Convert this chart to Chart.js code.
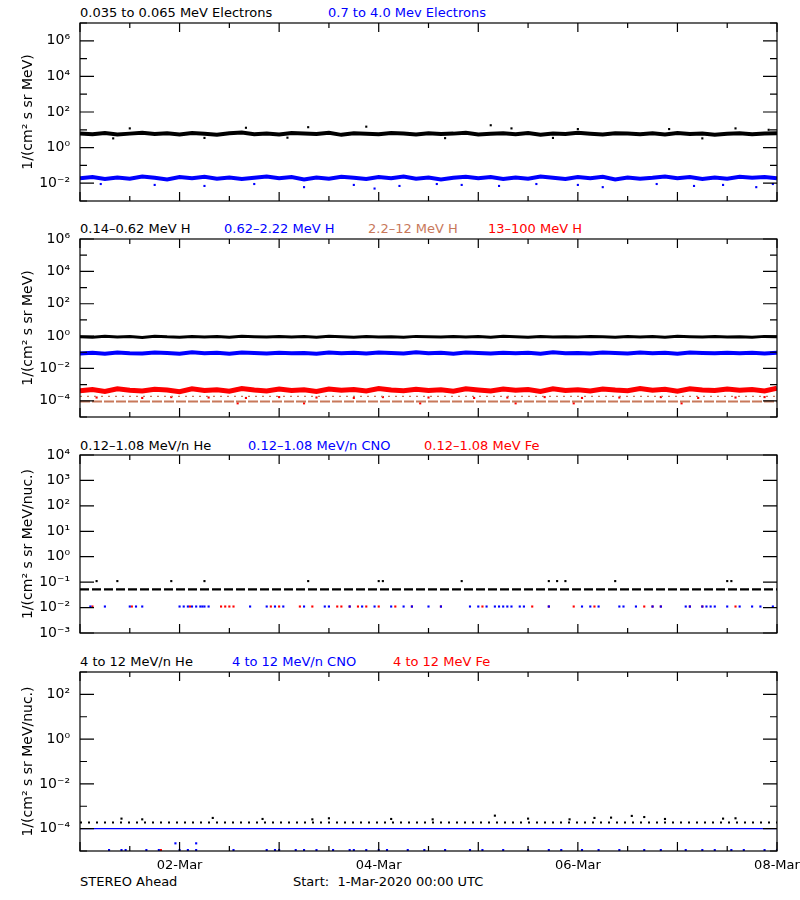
<!DOCTYPE html>
<html><head><meta charset="utf-8">
<script src="https://cdn.jsdelivr.net/npm/chart.js@4.4.1/dist/chart.umd.min.js"></script>
<style>
body{margin:0;background:#fff;width:800px;height:900px;position:relative;overflow:hidden;font-family:"DejaVu Sans",sans-serif;}
canvas{position:absolute;left:0;}
.lab{position:absolute;font-size:13px;white-space:pre;line-height:14px;}
</style></head><body>
<div class="lab" style="left:80px;top:6px;color:#000">0.035 to 0.065 MeV Electrons</div>
<div class="lab" style="left:328px;top:6px;color:#0000ff">0.7 to 4.0 Mev Electrons</div>
<div class="lab" style="left:80px;top:222px;color:#000">0.14–0.62 MeV H</div>
<div class="lab" style="left:224px;top:222px;color:#0000ff">0.62–2.22 MeV H</div>
<div class="lab" style="left:368px;top:222px;color:#c8785a">2.2–12 MeV H</div>
<div class="lab" style="left:488px;top:222px;color:#ff0000">13–100 MeV H</div>
<div class="lab" style="left:80px;top:439px;color:#000">0.12–1.08 MeV/n He</div>
<div class="lab" style="left:248px;top:439px;color:#0000ff">0.12–1.08 MeV/n CNO</div>
<div class="lab" style="left:424px;top:439px;color:#ff0000">0.12–1.08 MeV Fe</div>
<div class="lab" style="left:80px;top:655px;color:#000">4 to 12 MeV/n He</div>
<div class="lab" style="left:232px;top:655px;color:#0000ff">4 to 12 MeV/n CNO</div>
<div class="lab" style="left:393px;top:655px;color:#ff0000">4 to 12 MeV Fe</div>
<div class="lab" style="left:80px;top:875px;color:#000">STEREO Ahead</div>
<div class="lab" style="left:293px;top:875px;color:#000">Start:  1-Mar-2020 00:00 UTC</div>
<canvas id="c1" width="800" height="192" style="top:13px;width:800px;height:192px"></canvas>
<canvas id="c2" width="800" height="192" style="top:229px;width:800px;height:192px"></canvas>
<canvas id="c3" width="800" height="192" style="top:445px;width:800px;height:192px"></canvas>
<canvas id="c4" width="800" height="219" style="top:662px;width:800px;height:219px"></canvas>
<script>
// ---- data ----
const hours = [0,3,6,9,12,15,18,21,24,27,30,33,36,39,42,45,48,51,54,57,60,63,66,69,72,75,78,81,84,87,90,93,96,99,102,105,108,111,114,117,120,123,126,129,132,135,138,141,144,147,150,153,156,159,162,165,168];
const xTickLabels = {24:"02-Mar",72:"04-Mar",120:"06-Mar",168:"08-Mar"};
// Panel 1 electrons
const e1Black = [6.2,5.6,6.6,5.4,6.1,6.9,5.8,6.3,5.5,6.7,6.0,5.3,6.4,7.0,5.7,6.2,5.4,6.6,6.1,5.8,6.8,5.2,6.3,6.0,5.7,6.7,6.2,5.5,6.4,5.8,6.1,6.9,5.4,6.0,6.3,5.7,6.6,5.3,6.2,5.8,6.8,6.0,5.4,6.4,6.1,5.7,6.3,5.5,6.7,5.8,6.2,5.3,6.0,6.4,5.7,6.1,6.3];
const e1Blue = [0.019,0.022,0.017,0.021,0.018,0.024,0.020,0.016,0.022,0.019,0.023,0.018,0.021,0.017,0.020,0.024,0.019,0.022,0.016,0.021,0.018,0.023,0.020,0.017,0.022,0.019,0.024,0.018,0.021,0.016,0.020,0.023,0.019,0.022,0.017,0.021,0.018,0.024,0.020,0.017,0.022,0.019,0.023,0.016,0.021,0.018,0.020,0.024,0.019,0.022,0.017,0.021,0.018,0.023,0.020,0.022,0.019];
const e1BlackOutX = [12,40,55,69,99,104,120,142,158,166];
const e1BlackOut = [12,13,14,15,18,12,11,11,12,10];
const e1BlackLowX = [8,30,50,88,114,150];
const e1BlackLow = [3.3,3.5,3.6,3.4,3.5,3.3];
const e1BlueLowX = [5,18,30,42,54,66,71,77,86,92,101,110,120,126,139,148,155,163,167];
const e1BlueLow = [0.009,0.008,0.007,0.009,0.006,0.008,0.005,0.007,0.009,0.008,0.007,0.009,0.008,0.006,0.009,0.007,0.008,0.006,0.009];
// Panel 2 protons
const hBlack = [0.92,0.85,0.97,0.88,0.94,0.83,0.99,0.90,0.86,0.95,0.89,0.93,0.84,0.98,0.91,0.87,0.96,0.88,0.93,0.85,0.97,0.90,0.86,0.94,0.89,0.92,0.84,0.96,0.91,0.87,0.95,0.88,0.93,0.86,0.98,0.90,0.85,0.94,0.89,0.92,0.87,0.96,0.90,0.84,0.95,0.88,0.93,0.86,0.97,0.91,0.87,0.94,0.89,0.92,0.85,0.96,0.90];
const hBlue = [0.085,0.094,0.080,0.098,0.088,0.083,0.096,0.090,0.081,0.099,0.087,0.093,0.082,0.097,0.089,0.084,0.095,0.088,0.091,0.080,0.098,0.086,0.093,0.083,0.096,0.089,0.085,0.100,0.087,0.092,0.081,0.097,0.090,0.084,0.095,0.088,0.093,0.082,0.099,0.087,0.091,0.083,0.096,0.089,0.085,0.098,0.088,0.092,0.081,0.097,0.090,0.086,0.094,0.088,0.093,0.084,0.095];
const hRed = [0.00042,0.00050,0.00038,0.00055,0.00045,0.00040,0.00052,0.00047,0.00037,0.00056,0.00044,0.00049,0.00039,0.00058,0.00046,0.00041,0.00053,0.00043,0.00048,0.00038,0.00054,0.00045,0.00050,0.00040,0.00057,0.00046,0.00042,0.00052,0.00044,0.00049,0.00039,0.00055,0.00047,0.00041,0.00053,0.00045,0.00050,0.00038,0.00056,0.00044,0.00048,0.00040,0.00054,0.00046,0.00042,0.00058,0.00045,0.00051,0.00039,0.00055,0.00047,0.00043,0.00053,0.00045,0.00050,0.00041,0.00060];
const hBrownX = [0,168];
const hBrown = [0.00009,0.00009];
const hBrownUp = [0.00019,0.00019];
const hRedLowX = [4,15,22,31,40,48,57,66,73,84,95,103,112,121,130,140,149,158,165];
const hRedLow = [0.00016,0.00015,0.00017,0.00016,0.00015,0.00017,0.00016,0.00015,0.00017,0.00016,0.00015,0.00016,0.00017,0.00015,0.00016,0.00017,0.00015,0.00016,0.00017];
const hRedVLowX = [38,54,82,105,119,145];
const hRedVLow = [0.00007,0.00007,0.00007,0.00007,0.00007,0.00007];
// Panel 3 low-energy ions
const lHeX = [0,168];
const lHe = [0.052,0.052];
const lHeOutX = [4,9,22,30,55,72,73,92,113,115,117,129,156,157];
const lHeOut = [0.11,0.11,0.11,0.11,0.11,0.11,0.11,0.11,0.11,0.11,0.11,0.11,0.11,0.11];
const lCnoX = [2.5,6,12,13.5,15,24,25,26,27,28,29,30,31,29.5,41,45,47,49,54,59,60,65,68,71,75,78,80,84,87,94,96,98,100,101,102,103,104,106,107,113,121,123,125,130,131,134,138,140,146,147,150,151,152,153,156,159,162,164,167];
const lCno = lCnoX.map(() => 0.011);
const lFeX = [3,12.5,26.5,34,35,36,37,46,48,53,56,62,63,65,67,69,72,76,80,87,97,109,113,119,124,136,138,140,147,150,158];
const lFe = lFeX.map(() => 0.011);
// Panel 4 high-energy ions
const hiHeX = [0,168];
const hiHe = [0.00019,0.00019];
const hiHeOutX = [10,15,32,44,56,60,75,85,100,108,118,124,128,133,136,141,155,158];
const hiHeOut = [0.00028,0.00026,0.00030,0.00027,0.00026,0.00029,0.00027,0.00026,0.00038,0.00028,0.00026,0.00030,0.00031,0.00037,0.00033,0.00027,0.00028,0.00029];
const hiCnoX = [0,168];
const hiCno = [0.0001,0.0001];
const hiCnoLowX = [7,10,11,16,19,24,26,28,37,45,47,48,52,54,57,61,65,66,69,72,74,79,83,88,94,97,102,108,113,116,121,125,130,136,140,146,150,153,157,160,165,168];
const hiCnoLow = hiCnoLowX.map(() => 0.000011);
const hiCnoMidX = [23,28];
const hiCnoMid = [0.000022,0.000022];
const hiFeX = [19.5];
const hiFe = [0.000011];

// ---- helpers ----
const sup = {"-":"⁻","0":"⁰","1":"¹","2":"²","3":"³","4":"⁴","5":"⁵","6":"⁶","7":"⁷","8":"⁸","9":"⁹"};
const fmt = e => "10" + String(e).split("").map(c => sup[c]).join("");
const pts = (xs, ys) => xs.map((x, i) => ({x: x, y: ys[i]}));
const line = (xs, ys, color, w, dash) => ({type:'line', data: pts(xs, ys), borderColor: color, borderWidth: w, borderDash: dash || [], pointRadius: 0, tension: 0});
const dots = (xs, ys, color, r) => ({type:'scatter', data: pts(xs, ys), backgroundColor: color, borderWidth: 0, pointRadius: r || 1.5, pointStyle: 'rect'});

const framePlugin = {
  id: 'frame',
  afterDraw(chart, args, o) {
    const {ctx, chartArea: a, scales} = chart;
    const x = scales.x, y = scales.y;
    ctx.save();
    ctx.strokeStyle = '#000'; ctx.lineWidth = 1.2;
    ctx.strokeRect(a.left, a.top, a.right - a.left, a.bottom - a.top);
    for (let h = 0; h <= 168; h += 12) {
      const px = x.getPixelForValue(h);
      const len = (h % 24 === 0) ? 9 : 5;
      ctx.beginPath(); ctx.moveTo(px, a.bottom); ctx.lineTo(px, a.bottom - len);
      ctx.moveTo(px, a.top); ctx.lineTo(px, a.top + len); ctx.stroke();
    }
    for (let e = o.eMin; e <= o.eMax; e++) {
      const py = y.getPixelForValue(Math.pow(10, e));
      const major = o.labelStep === 1 || ((e - o.labelStart) % 2 === 0);
      const len = major ? 14 : 7;
      ctx.beginPath(); ctx.moveTo(a.left, py); ctx.lineTo(a.left + len, py);
      ctx.moveTo(a.right, py); ctx.lineTo(a.right - len, py); ctx.stroke();
    }
    ctx.restore();
  }
};

function make(id, datasets, cfg) {
  new Chart(document.getElementById(id), {
    data: {datasets},
    options: {
      responsive: false, maintainAspectRatio: false, animation: false, devicePixelRatio: 1,
      layout: {padding: {top: 10, right: 23, bottom: cfg.showX ? 0 : 2, left: 0}},
      plugins: {legend: {display: false}, tooltip: {enabled: false}, frame: cfg},
      scales: {
        x: {type: 'linear', min: 0, max: 168, display: cfg.showX,
            grid: {display: false, drawTicks: false}, border: {display: false},
            afterBuildTicks: s => { s.ticks = [24,72,120,168].map(v => ({value: v})); },
            ticks: {autoSkip: false, maxRotation: 0, padding: 7, color: '#000', font: {family: 'DejaVu Sans', size: 13}, callback: v => xTickLabels[v] || ''},
            afterFit: s => { s.height = cfg.showX ? 30 : 0; s.paddingLeft = 0; s.paddingRight = 0; }},
        y: {type: 'logarithmic', min: cfg.min, max: cfg.max,
            grid: {display: false, drawTicks: false}, border: {display: false},
            afterBuildTicks: s => { const t = []; for (let e = cfg.labelStart; e <= cfg.labelEnd; e += cfg.labelStep) t.push({value: Math.pow(10, e)}); s.ticks = t; },
            ticks: {autoSkip: false, padding: 10, color: '#000', font: {family: 'DejaVu Sans', size: 14}, callback: v => fmt(Math.round(Math.log10(v)))},
            title: {display: true, text: cfg.ytitle, color: '#000', font: {family: 'DejaVu Sans', size: 14}, padding: {top: 20, bottom: 0}},
            afterFit: s => { s.width = 80; s.paddingTop = 0; s.paddingBottom = 0; }}
      }
    },
    plugins: [framePlugin]
  });
}

make('c1', [
  line(hours, e1Black, '#000', 4),
  line(hours, e1Blue, '#0000ff', 4),
  dots(e1BlackOutX, e1BlackOut, '#000'),
  dots(e1BlackLowX, e1BlackLow, '#000'),
  dots(e1BlueLowX, e1BlueLow, '#0000ff')
], {min: 1e-3, max: 1e7, eMin: -3, eMax: 7, labelStart: -2, labelEnd: 6, labelStep: 2, ytitle: '1/(cm² s sr MeV)', showX: false});

make('c2', [
  line(hBrownX, hBrown, '#c8785a', 2, [10, 2]),
  line(hBrownX, hBrownUp, '#c8785a', 1.3, [2, 5]),
  dots(hRedLowX, hRedLow, '#ff0000'),
  dots(hRedVLowX, hRedVLow, '#ff0000'),
  line(hours, hRed, '#ff0000', 5),
  line(hours, hBlue, '#0000ff', 4),
  line(hours, hBlack, '#000', 3)
], {min: 1e-5, max: 1e6, eMin: -5, eMax: 6, labelStart: -4, labelEnd: 6, labelStep: 2, ytitle: '1/(cm² s sr MeV)', showX: false});

make('c3', [
  line(lHeX, lHe, '#000', 2.2, [9, 3]),
  dots(lHeOutX, lHeOut, '#000'),
  dots(lCnoX, lCno, '#0000ff'),
  dots(lFeX, lFe, '#ff0000')
], {min: 1e-3, max: 1e4, eMin: -3, eMax: 4, labelStart: -3, labelEnd: 4, labelStep: 1, ytitle: '1/(cm² s sr MeV/nuc.)', showX: false});

make('c4', [
  line(hiCnoX, hiCno, '#0000ff', 1.2),
  line(hiHeX, hiHe, '#000', 2, [2, 6]),
  dots(hiHeOutX, hiHeOut, '#000'),
  dots(hiCnoLowX, hiCnoLow, '#0000ff'),
  dots(hiCnoMidX, hiCnoMid, '#0000ff'),
  dots(hiFeX, hiFe, '#ff0000')
], {min: 1e-5, max: 1e3, eMin: -5, eMax: 3, labelStart: -4, labelEnd: 2, labelStep: 2, ytitle: '1/(cm² s sr MeV/nuc.)', showX: true});
</script>
</body></html>
